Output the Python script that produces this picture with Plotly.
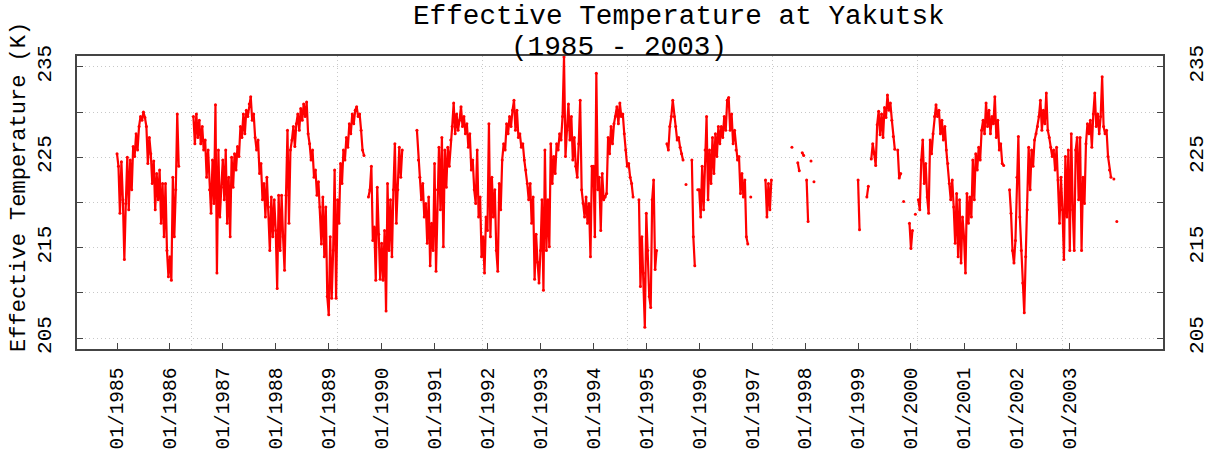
import pandas as pd
import plotly.graph_objects as go

N = None
# Effective temperature (K), ~10-day samples, one list per year
t1985 = [225.4, 224.0, 218.8, 224.5, 220.3, 213.7, 219.9, 225.0, 219.2, 224.7, 221.4, 226.2,
         225.1, 227.6, 225.8, 228.4, 229.5, 229.1, 230.0, 229.4, 228.4, 224.3, 227.2, 225.4,
         222.1, 224.6, 219.2, 223.2, 220.3, 223.6, 217.7, 222.1, 216.2, 222.1, 214.7, 211.8]
t1986 = [214.0, 211.4, 222.8, 216.2, 221.4, 229.8, 224.0, N, N, N, N, N,
         N, N, N, N, 229.5, 226.5, 229.8, 227.2, 229.1, 226.5, 228.4, 225.8,
         226.9, 222.8, 225.8, 221.4, 218.8, 224.7, 219.9, 230.8, 212.2, 225.8, 218.4, 221.7]
t1987 = [224.7, 220.3, 225.8, 217.7, 222.8, 216.2, 225.0, 221.7, 225.4, 223.6, 226.2, 225.1,
         228.4, 227.2, 229.8, 227.6, 230.2, 229.5, 230.9, 231.7, 229.1, 229.8, 227.2, 225.8,
         226.9, 223.2, 224.3, 220.3, 222.1, 218.4, 222.8, 219.5, 214.7, 220.6, 216.2, 220.3]
t1988 = [216.9, 210.5, 220.8, 214.7, 220.8, 216.2, 212.5, 220.8, 228.0, 217.7, 225.8, 226.9,
         228.4, 226.2, 228.7, 229.8, 228.0, 230.4, 229.1, 230.9, 229.5, 231.1, 227.6, 226.5,
         224.7, 225.8, 222.8, 223.6, 220.8, 222.3, 219.5, 215.4, 220.6, 214.0, 219.5, 209.6]
t1989 = [207.6, 216.2, 209.4, 214.7, 223.6, 209.4, 220.3, 217.7, 224.3, 222.1, 225.8, 224.7,
         227.2, 226.1, 228.7, 227.6, 229.8, 228.7, 230.2, 230.6, 229.5, 229.8, 228.0, 225.8,
         225.2, N, N, 220.6, 221.4, 224.0, 215.8, 217.3, 211.4, 221.7, 216.5, 211.5]
t1990 = [215.5, 211.4, 216.9, 208.0, 222.1, 214.7, 220.3, 214.0, 221.4, 226.5, 217.7, 221.4,
         226.1, 222.8, 225.8, N, N, N, N, N, N, N, N, N,
         228.0, 224.7, 222.8, 220.3, 222.1, 218.4, 219.9, 215.5, 220.6, 213.0, 217.7, 214.7]
t1991 = [224.3, 212.4, 221.4, 226.1, 219.2, 227.2, 215.1, 225.8, 221.7, 226.1, 224.0, 226.9,
         228.4, 231.0, 227.6, 229.8, 228.0, 229.1, 230.6, 228.4, 229.5, 227.6, 228.7, 226.1,
         227.6, 223.6, 224.7, 221.4, 219.9, 225.8, 218.4, 220.6, 214.0, 216.2, 212.2, 218.4]
t1992 = [216.9, 228.7, 216.2, 222.8, 218.4, 221.4, 214.7, 212.4, 222.1, 219.2, 224.7, 226.5,
         225.8, 228.7, 227.6, 229.5, 228.4, 230.2, 231.3, 228.0, 230.2, 227.2, 227.6, 226.1,
         226.5, 224.7, 223.6, 222.1, 220.3, 222.1, 217.7, 220.6, 211.5, 216.5, 213.4, 211.1]
t1993 = [214.7, 220.3, 210.3, 225.8, 214.7, 220.3, 215.1, 226.5, 222.1, 225.1, 223.2, 226.5,
         225.8, 227.6, 226.9, 229.5, 236.1, 225.1, 228.0, 230.9, 226.9, 229.5, 224.7, 227.2,
         224.0, 222.8, 226.5, 231.3, 221.4, 219.9, 218.4, 220.6, 217.7, 219.9, 214.0, 224.0]
t1994 = [224.0, 216.2, 234.3, 221.4, 222.8, 216.9, 223.2, 220.3, 220.6, 221.0, 227.2, 225.4,
         228.4, 226.5, 228.7, 229.5, 230.6, 228.7, 231.0, 229.5, 229.8, 227.6, 225.8, 224.0,
         224.3, 222.8, 222.1, 220.6, N, N, N, 220.3, 210.7, 216.2, 212.2, 206.2]
t1995 = [218.8, 214.7, 209.6, 208.4, 220.3, 222.5, 212.6, 214.7, N, N, N, N,
         N, N, 226.5, 225.8, 228.4, 229.5, 231.3, 229.5, 228.4, 226.9, 227.2, 226.1,
         225.4, 224.7, N, 222.0, N, N, N, 224.7, 216.2, 213.0, N, 221.4]
t1996 = [221.4, 218.4, 224.0, 219.2, 225.8, 229.5, 220.3, 225.8, 222.1, 227.2, 223.2, 227.6,
         225.1, 228.4, 226.5, 228.4, 227.2, 229.5, 228.0, 231.3, 231.6, 228.0, 229.8, 226.5,
         228.0, 225.8, 224.7, 225.1, 221.0, 223.2, 220.6, 222.5, 216.2, 215.4, N, 220.6]
t1997 = [N, N, N, N, N, N, N, N, N, 222.5, 218.4, 222.1,
         219.2, 222.5, N, N, N, N, N, N, N, N, N, N,
         N, N, N, 226.1, N, N, N, 224.4, 223.5, N, 225.5, 225.2]
t1998 = [N, 222.5, 217.9, N, 224.6, N, 222.3, N, N, N, N, N,
         N, N, N, N, N, N, N, N, N, N, N, N,
         N, N, N, N, N, N, N, N, N, N, N, N]
t1999 = [222.5, 217.0, N, N, N, N, 220.6, 221.8, N, 224.8, 226.5, 225.4,
         224.1, 228.6, 230.1, 227.5, 229.8, 227.2, 230.5, 229.4, 231.9, 230.2, 231.0, 229.1,
         227.3, 225.9, N, 225.8, 222.7, 223.2, N, 220.1, N, N, N, 217.7]
t2000 = [214.9, 216.9, N, 218.7, N, 220.3, 219.2, 224.7, 226.9, 222.1, 224.3, 220.6,
         218.8, 226.9, 225.4, 227.6, 229.5, 230.8, 229.5, 230.2, 227.6, 229.1, 226.9, 228.4,
         225.8, 224.3, 222.1, 220.3, 222.5, 219.5, 215.5, 221.0, 214.0, 220.3, 213.3, 218.4]
t2001 = [216.2, 212.2, 221.0, 217.7, 220.6, 218.4, 224.7, 220.3, 225.4, 223.6, 226.1, 224.7,
         228.0, 229.1, 227.6, 231.0, 228.4, 230.2, 227.6, 229.5, 228.7, 231.7, 227.2, 229.1,
         225.8, 226.5, 224.3, 224.1, N, N, N, 221.4, 218.8, 214.7, 213.3, 215.8]
t2002 = [222.8, 227.3, 218.4, 214.7, 211.1, 207.8, 214.0, 219.2, 226.1, 221.4, 225.8, 224.0,
         226.9, 227.6, 228.4, 229.5, 231.3, 228.0, 230.2, 228.7, 232.1, 228.0, 227.2, 226.1,
         225.1, 225.8, 223.6, 226.1, 222.5, 217.7, 222.8, 219.2, 213.7, 225.1, 218.4, 225.8]
t2003 = [214.7, 227.6, 219.2, 214.7, 225.8, 227.2, 220.3, 227.2, 214.7, 222.8, 219.9, 226.5,
         228.7, 227.6, 229.1, 226.1, 229.8, 232.1, 228.4, 229.8, 227.6, 229.5, 233.9, 228.4,
         227.6, 228.0, 225.1, 223.6, 222.8, N, 222.6, N, 217.9, N, N, N]

years = list(range(1985, 2004))
yearly = [t1985, t1986, t1987, t1988, t1989, t1990, t1991, t1992, t1993, t1994,
          t1995, t1996, t1997, t1998, t1999, t2000, t2001, t2002, t2003]

y_tick_vals = [205, 210, 215, 220, 225, 230, 235]
y_tick_text = ["205", "", "215", "", "225", "", "235"]
x_tick_vals = [f"{y}-01-01" for y in years]
x_tick_text = [f"01/{y}" for y in years]

dates, temps = [], []
for yr, vals in zip(years, yearly):
    d = pd.date_range(f"{yr}-01-01", f"{yr + 1}-01-01", periods=len(vals) + 1)[:-1]
    dates.extend(d)
    temps.extend(vals)

FONT = "Liberation Mono"
BORDER = "#444444"
GRID = "#c8c8c8"
xr = ["1984-03-31", "2004-10-05"]
yr_ = [203.8, 236.2]

fig = go.Figure()
fig.add_trace(go.Scatter(x=dates, y=temps, mode="lines+markers", connectgaps=False,
                         line=dict(color="#ff0000", width=2.2),
                         marker=dict(color="#ff0000", size=3),
                         showlegend=False, hoverinfo="skip"))
# invisible copy on the right-hand axis so that it is drawn
fig.add_trace(go.Scatter(x=dates[:1], y=temps[:1], yaxis="y2", mode="markers",
                         marker=dict(opacity=0), showlegend=False, hoverinfo="skip"))

fig.update_layout(
    width=1211, height=456,
    margin=dict(l=77, r=48, t=56, b=107),
    paper_bgcolor="white", plot_bgcolor="white",
    font=dict(family=FONT, color="black"),
    xaxis=dict(type="date", range=xr, tickvals=x_tick_vals, ticktext=x_tick_text,
               automargin=False,
               tickangle=-90, ticks="inside", ticklen=6, tickcolor=BORDER,
               ticklabelstandoff=9,
               tickfont=dict(family=FONT, size=19.5, color="black"),
               showgrid=False, zeroline=False,
               minor=dict(tick0="1986-06-02", dtick=1001 * 86400000, ticks="",
                          showgrid=True, gridcolor=GRID, griddash="1px,3px", gridwidth=1),
               showline=True, linecolor=BORDER, linewidth=1.5, mirror=True),
    yaxis=dict(range=yr_, tickvals=y_tick_vals, ticktext=y_tick_text,
               automargin=False,
               tickangle=-90, ticks="inside", ticklen=6, tickcolor=BORDER,
               ticklabelstandoff=16,
               tickfont=dict(family=FONT, size=21, color="black"),
               showgrid=True, gridcolor=GRID, griddash="1px,3px", gridwidth=1,
               zeroline=False, showline=True, linecolor=BORDER, linewidth=1.5, mirror=True),
    yaxis2=dict(range=yr_, tickvals=y_tick_vals, ticktext=y_tick_text, overlaying="y",
                automargin=False,
                side="right", tickangle=-90, ticks="inside", ticklen=6, tickcolor=BORDER,
                ticklabelstandoff=18,
                tickfont=dict(family=FONT, size=21, color="black"),
                showgrid=False, zeroline=False, showline=False),
    annotations=[
        dict(text="Effective Temperature at Yakutsk", xref="paper", yref="paper",
             x=0.5543, y=1.1365, xanchor="center", yanchor="middle", showarrow=False,
             font=dict(family=FONT, size=27.7, color="black")),
        dict(text="(1985 - 2003)", xref="paper", yref="paper",
             x=0.4991, y=1.0290, xanchor="center", yanchor="middle", showarrow=False,
             font=dict(family=FONT, size=27.7, color="black")),
        dict(text="Effective Temperature (K)", xref="paper", yref="paper",
             x=-0.0530, y=0.5547, xanchor="center", yanchor="middle", showarrow=False,
             textangle=-90, font=dict(family=FONT, size=22, color="black")),
    ],
)

fig.write_html("out.html")
